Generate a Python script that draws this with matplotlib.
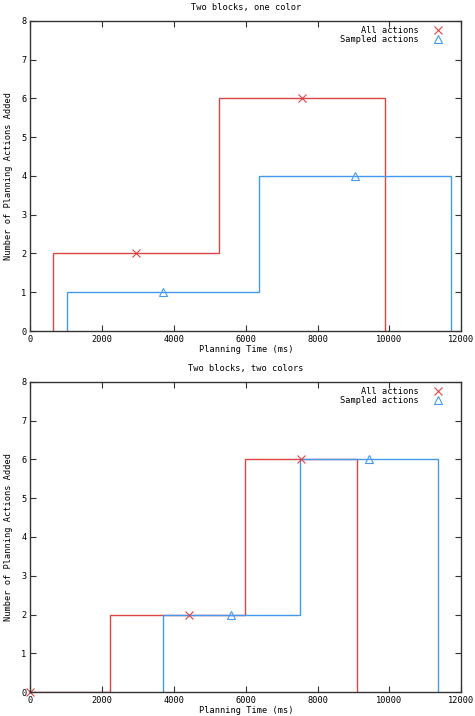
import matplotlib
matplotlib.use("Agg")
import matplotlib.pyplot as plt
from matplotlib.lines import Line2D
import numpy as np

# Dados (pontos medios de cada degrau)
titulos = ["Two blocks, one color", "Two blocks, two colors"]
all_x = [[2945, 7561], [0, 4415, 7538]]
all_y = [[2, 6], [0, 2, 6]]
samp_x = [[3692, 9053], [5598, 9435]]
samp_y = [[1, 4], [2, 6]]
xticks = [0, 2000, 4000, 6000, 8000, 10000, 12000]
yticks = [0, 1, 2, 3, 4, 5, 6, 7, 8]

vermelho = "#dd4444"
azul = "#4499ee"
fonte = "DejaVu Sans Mono"
fs = 6.2


def histeps(x):
    # bordas dos degraus no estilo "histeps" do gnuplot
    x = np.asarray(x, dtype=float)
    meio = (x[:-1] + x[1:]) / 2
    esq = x[0] - (meio[0] - x[0])
    dir = x[-1] + (x[-1] - meio[-1])
    return np.concatenate([[esq], meio, [dir]])


fig = plt.figure(figsize=(4.75, 7.16), dpi=100)
posicoes = [[0.0642, 0.5377, 0.9064, 0.4330], [0.0642, 0.0335, 0.9064, 0.4330]]

for i in range(2):
    ax = fig.add_axes(posicoes[i])
    ax.stairs(all_y[i], histeps(all_x[i]), baseline=0, color=vermelho, lw=1)
    ax.stairs(samp_y[i], histeps(samp_x[i]), baseline=0, color=azul, lw=1)
    ax.plot(all_x[i], all_y[i], ls="none", marker="x", ms=6, mew=0.8,
            color=vermelho, clip_on=False)
    ax.plot(samp_x[i], samp_y[i], ls="none", marker="^", ms=6, mew=0.8,
            mfc="none", color=azul, clip_on=False)

    ax.set_xlim(0, 12000)
    ax.set_ylim(0, 8)
    ax.set_xticks(xticks)
    ax.set_yticks(yticks)
    ax.tick_params(direction="in", top=True, right=True, length=4, width=0.8,
                   color="#333333", labelsize=fs, pad=3)
    for lbl in ax.get_xticklabels() + ax.get_yticklabels():
        lbl.set_family(fonte)
    for s in ax.spines.values():
        s.set_color("#333333")
        s.set_linewidth(1)

    ax.set_title(titulos[i], fontsize=fs, family=fonte, pad=8)
    ax.set_xlabel("Planning Time (ms)", fontsize=fs, family=fonte, labelpad=0.5)
    ax.set_ylabel("Number of Planning Actions Added", fontsize=fs, family=fonte,
                  labelpad=6)

    handles = [
        Line2D([], [], ls="none", marker="x", ms=6, mew=0.8, color=vermelho),
        Line2D([], [], ls="none", marker="^", ms=6, mew=0.8, mfc="none", color=azul),
    ]
    ax.legend(handles, ["All actions", "Sampled actions"], loc="upper right",
              frameon=False, markerfirst=False, prop={"family": fonte, "size": fs},
              handlelength=1.2, handletextpad=1.6, labelspacing=0.0,
              borderaxespad=0.2, bbox_to_anchor=(0.97, 1.0))

fig.savefig("out.png", dpi=100)
